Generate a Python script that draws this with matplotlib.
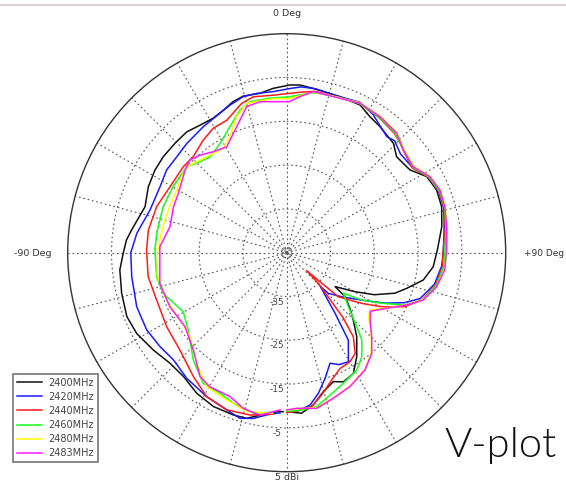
import matplotlib
matplotlib.use("Agg")
import matplotlib.pyplot as plt
import numpy as np

# radiation pattern, V-plane: angle in degrees (clockwise from top), gain in dBi
labels = ['2400MHz', '2420MHz', '2440MHz', '2460MHz', '2480MHz', '2483MHz']
colors = ['#111111', '#1a1aff', '#ff1a1a', '#1aff1a', '#ffff00', '#ff1aff']

ang_2400 = [-178.8, -176.4, -170.7, -166.4, -161.8, -154.5, -147.4, -140.2, -133.5, -126.1,
            -118.3, -111.8, -103.8, -95.9, -90, -85.5, -81.7, -72, -64.5, -57.9,
            -52.1, -45.6, -39.6, -34.2, -28.6, -24, -19.5, -15.5, -9.5, -4.7,
            1.1, 4.5, 9.2, 18.9, 26.4, 31.5, 36.5, 44.3, 48.9, 56.1,
            61.5, 67.3, 73.5, 80.5, 89, 95.5, 101.3, 106.5, 110.5, 115.6,
            119.7, 125, 127, 131.3, 135.3, 140.2, 146, 151.1, 156.3, 160.1,
            165.2, 170.1, 174.7, 180]
gain_2400 = [-8.7, -8.6, -7.4, -6.1, -6.0, -6.1, -6.9, -8.2, -8.3, -7.3,
             -6.1, -5.7, -6.2, -6.7, -7.7, -8.3, -9.2, -11.0, -10.0, -9.5,
             -9.3, -9.3, -9.2, -9.8, -10.0, -9.4, -8.4, -7.9, -8.1, -7.35,
             -6.7, -6.6, -7.0, -7.35, -7.35, -8.6, -9.2, -10.1, -11.7, -11.1,
             -8.6, -7.9, -8.1, -9.1, -10.6, -11.4, -13.2, -16.4, -18.6, -22.8,
             -27.0, -31.5, -28.3, -25.8, -23.4, -20.0, -16.4, -13.5, -12.8, -13.7,
             -12.2, -9.7, -8.2, -8.7]

ang_2420 = [-177.6, -173, -168.6, -164.2, -159.1, -150.9, -141.5, -133.4, -126.6, -118.9,
            -109.8, -98.8, -90, -82.6, -72.7, -62.5, -55.4, -48.9, -42.4, -33.5,
            -25.6, -21, -15.5, -10.7, -4.8, 1.2, 5, 10, 18, 26,
            32, 40.8, 44, 49, 56, 62, 68, 74, 81, 90,
            95, 102, 109, 113, 117.2, 122, 128.7, 134.3, 135, 141.4,
            144.8, 150.5, 155, 158.6, 163, 167.3, 171.3, 176, 180]
gain_2420 = [-8.4, -7.7, -6.4, -5.7, -6.6, -7.4, -8.35, -9.4, -9.0, -8.5,
             -8.6, -9.2, -9.4, -10.5, -12.3, -12.4, -11.7, -11.7, -11.2, -10.5,
             -9.7, -8.9, -8.0, -8.0, -8.1, -7.5, -7.0, -7.0, -7.4, -6.8,
             -7.8, -10.0, -9.5, -10.6, -10.3, -8.3, -7.6, -7.7, -8.6, -9.25,
             -9.5, -10.5, -12.8, -15.8, -19.8, -24.5, -28.9, -31.7, -34.2, -27.3,
             -20.6, -16.4, -16.8, -17.9, -15.0, -12.1, -9.8, -8.8, -8.6]

ang_2440 = [-175, -167.3, -159.1, -150.9, -143, -132.4, -121.7, -110, -99.8, -89,
            -80.7, -70.5, -60.5, -50.2, -44.2, -36.5, -30.5, -24.3, -16.8, -12.1,
            -4.9, 1.2, 5, 10, 18, 26, 34, 42, 46, 50,
            56, 62, 68, 74, 81, 90, 95, 102, 109, 114.5,
            119.6, 124, 130.5, 132, 134, 139, 141.6, 145.8, 149.9, 155.2,
            160.5, 166.2, 170.8, 176, 180]
gain_2440 = [-8.0, -7.0, -6.6, -7.4, -9.6, -12.0, -12.8, -13.4, -12.9, -13.0,
             -13.0, -13.5, -14.4, -14.3, -14.4, -13.0, -12.0, -11.8, -9.4, -8.6,
             -8.9, -8.6, -8.2, -7.6, -7.6, -7.1, -7.6, -8.3, -9.0, -9.8,
             -10.4, -8.3, -7.5, -7.6, -8.3, -9.3, -9.3, -10.2, -12.2, -15.3,
             -20.0, -24.3, -29.5, -38.9, -35.0, -25.5, -20.5, -17.2, -16.2, -15.9,
             -14.2, -11.55, -9.4, -8.8, -8.5]

ang_2460 = [-175, -168.3, -160.5, -154.6, -147.4, -139, -128.2, -119.7, -112, -108.2,
            -100.5, -88.8, -81.5, -69.6, -59.8, -49.3, -43.6, -38.6, -31.4, -24.2,
            -18.1, -13.7, -6.2, 1, 5, 10, 18, 26, 34, 42,
            48, 56, 62, 68, 74, 81, 90, 95, 102, 109,
            113.9, 118, 122.2, 125.6, 131.2, 136.6, 139.3, 144.2, 149.2, 156.6,
            163.1, 169, 175, 180]
gain_2460 = [-8.4, -7.6, -8.5, -9.5, -9.6, -12.5, -16.4, -17.8, -16.3, -15.3,
             -14.8, -14.9, -15.0, -14.9, -15.0, -14.9, -16.3, -17.0, -15.8, -13.4,
             -10.7, -9.5, -9.5, -9.4, -8.8, -7.9, -7.6, -7.1, -7.5, -8.1,
             -9.4, -10.2, -8.2, -7.4, -7.5, -8.2, -8.9, -9.0, -10.0, -12.1,
             -15.5, -20.4, -24.7, -29.1, -26.3, -21.7, -18.7, -15.7, -13.8, -12.5,
             -11.0, -9.2, -8.9, -8.8]

ang_2480 = [-175, -165.9, -157.8, -149.2, -140.9, -131, -122.2, -111.5, -100, -90,
            -82, -75, -68, -61, -55, -49.3, -39.8, -31.3, -26, -20.2,
            -15, -5, 1, 5, 9.4, 14, 26, 34.5, 42.6, 48.6,
            55.8, 62, 67.8, 73.8, 80.8, 89, 96, 103, 109, 113.5,
            119, 124.5, 128, 134.5, 139.8, 146, 154.5, 162, 169, 176,
            180]
gain_2480 = [-8.2, -7.6, -8.7, -9.4, -12.4, -15.8, -16.2, -15.5, -15.0, -15.5,
             -16.0, -16.2, -16.3, -16.2, -15.5, -14.9, -16.5, -17.1, -15.5, -11.9,
             -9.7, -9.7, -9.8, -9.0, -7.8, -7.8, -6.9, -7.2, -7.8, -9.3,
             -9.9, -7.9, -7.1, -7.3, -7.9, -8.4, -8.7, -9.9, -12.1, -15.2,
             -19.0, -21.9, -21.3, -17.9, -15.1, -13.0, -11.3, -10.2, -8.9, -9.3,
             -9.1]

ang_2483 = [-177.6, -170.7, -164.4, -158.5, -150.2, -145, -136.2, -126, -114.8, -103.6,
            -87.3, -77.4, -67.9, -61.3, -50.9, -46.2, -41.6, -36, -29.5, -19.4,
            -15.3, -10, 1, 4.9, 9.4, 14.2, 26.1, 34.5, 42.6, 48.6,
            55.8, 62, 67.8, 73.8, 80.8, 89, 96.2, 102.8, 109.1, 113.5,
            119.1, 125, 129, 134.7, 139.8, 146.3, 154.7, 162.3, 169.1, 176.3,
            180]
gain_2483 = [-9.1, -7.4, -8.1, -9.7, -9.7, -10.5, -14.2, -16.3, -15.6, -15.2,
             -16.0, -17.7, -17.1, -16.8, -15.1, -14.4, -15.2, -16.5, -17.2, -12.9,
             -10.4, -10.0, -10.5, -9.2, -7.7, -7.85, -7.0, -7.35, -7.9, -9.5,
             -10.1, -8.0, -7.2, -7.4, -8.0, -8.5, -8.7, -9.9, -12.0, -15.1,
             -18.9, -21.7, -20.5, -17.7, -14.9, -12.8, -11.2, -10.1, -8.8, -9.4,
             -9.1]

series = [(ang_2400, gain_2400), (ang_2420, gain_2420), (ang_2440, gain_2440),
          (ang_2460, gain_2460), (ang_2480, gain_2480), (ang_2483, gain_2483)]

r_min, r_max = -45, 5
ring_vals = [-35, -25, -15, -5]
ring_labels = ['-35', '-25', '-15', '-5']

W, H = 566, 484
fig = plt.figure(figsize=(W / 100, H / 100), dpi=100)

# thin frame line at the very top of the screenshot
fig.add_artist(plt.Line2D([0, 1], [1 - 4.5 / H, 1 - 4.5 / H], color='#d9c9c9', lw=1.2))

cx, cy, R = 286.7, 252.7, 219
ax = fig.add_axes([(cx - R) / W, (H - cy - R) / H, 2 * R / W, 2 * R / H], projection='polar')
ax.set_theta_zero_location('N')
ax.set_theta_direction(-1)
ax.set_rlim(r_min, r_max)
ax.set_rticks(ring_vals)
ax.set_yticklabels([])
ax.set_xticks(np.deg2rad(np.arange(0, 360, 15)))
ax.set_xticklabels([])
ax.grid(True, color='#555555', linestyle=(0, (1.5, 2.5)), linewidth=0.8)
ax.spines['polar'].set_color('#333333')
ax.spines['polar'].set_linewidth(1.0)

for (a, g), c, lab in zip(series, colors, labels):
    ax.plot(np.deg2rad(a), g, color=c, lw=1.1, label=lab)

# radial labels along the bottom spoke
for v, s in zip(ring_vals, ring_labels):
    ax.annotate(s, xy=(np.pi, v), xytext=(-7, -4), textcoords='offset points',
                ha='center', va='center', fontsize=6.5, color='#444444')
ax.annotate('-45', xy=(0, r_min), xytext=(0, 0), textcoords='offset points',
            ha='center', va='center', fontsize=5.5, color='#777777')

fs = 6.8
fig.text(cx / W, 1 - 13 / H, '0 Deg', ha='center', va='center', fontsize=fs, color='#333333')
fig.text(33 / W, 1 - 253 / H, '-90 Deg', ha='center', va='center', fontsize=fs, color='#333333')
fig.text(524 / W, 1 - 253 / H, '+90 Deg', ha='left', va='center', fontsize=6.5, color='#333333')
fig.text(cx / W, 1 - 477 / H, '5 dBi', ha='center', va='center', fontsize=fs, color='#333333')

leg = fig.legend(loc='lower left', bbox_to_anchor=(13 / W, 1 - 462 / H), fontsize=7,
                 frameon=True, fancybox=False, shadow=False, handlelength=2.6,
                 borderpad=0.4, labelspacing=0.42, handletextpad=0.6, borderaxespad=0)
leg.get_frame().set_edgecolor('#555555')
leg.get_frame().set_linewidth(1.2)
for t in leg.get_texts():
    t.set_color('#444444')

fig.text(501 / W, 1 - 457 / H, 'V-plot', ha='center', va='baseline', fontsize=30,
         family=['Lato', 'DejaVu Sans'], fontweight=300, color='#111111')

fig.savefig('out.png', dpi=100)
